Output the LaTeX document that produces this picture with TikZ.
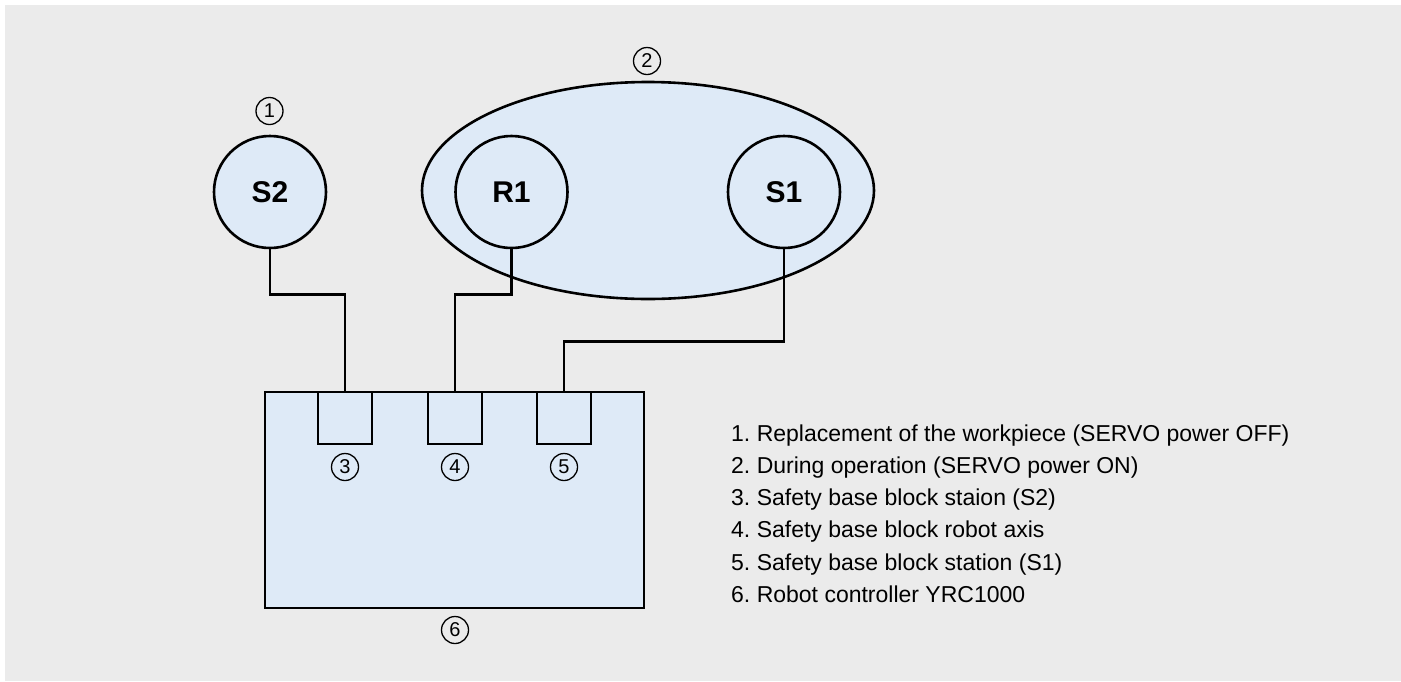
\documentclass[tikz,border=0pt]{standalone}
\usepackage{fontspec}
\setmainfont{Liberation Sans}
\usetikzlibrary{shapes.geometric}
\definecolor{bggrey}{HTML}{EBEBEB}
\definecolor{boxblue}{HTML}{DEEAF7}
\tikzset{
  unit/.style={circle, draw=black, line width=2.6pt, fill=boxblue, minimum size=112pt, inner sep=0pt,
    font=\fontsize{30}{34}\selectfont\bfseries},
  group/.style={ellipse, draw=black, line width=2.6pt, fill=boxblue, minimum width=452pt, minimum height=217pt, inner sep=0pt},
  ctrl/.style={rectangle, draw=black, line width=2.6pt, fill=boxblue, minimum width=379pt, minimum height=216pt, inner sep=0pt},
  port/.style={rectangle, draw=black, line width=2.6pt, fill=boxblue, minimum width=54pt, minimum height=52pt, inner sep=0pt},
  num/.style={circle, draw=black, line width=1.3pt, minimum size=27pt, inner sep=0pt,
    font=\fontsize{20}{22}\selectfont},
  wire/.style={draw=black, line width=2.6pt},
  legend/.style={anchor=base west, inner sep=0pt, font=\fontsize{23}{27}\selectfont\frenchspacing}
}
\begin{document}
\begin{tikzpicture}[x=1pt, y=-1pt]
\useasboundingbox (0,0) rectangle (1401,681);
\fill[bggrey] (5,5) rectangle (1401,681);
% group ellipse
\node[group] (grp) at (648,190.5) {};
% units
\node[unit] (s2) at (270,192) {S2};
\node[unit] (r1) at (511.5,192) {R1};
\node[unit] (s1) at (784,192) {S1};
% controller
\node[ctrl] (ctl) at (454.5,500) {};
\node[port] (p3) at (345,418) {};
\node[port] (p4) at (455,418) {};
\node[port] (p5) at (564,418) {};
% wires
\draw[wire] (s2.south) -- ++(0,45) -| (p3.north);
\draw[wire] (r1.south) -- ++(0,45) -| (p4.north);
\draw[wire] (s1.south) -- ++(0,92) -| (p5.north);
% numbers
\node[num] (n1) at (269.5,111) {1};
\node[num] (n2) at (647,61) {2};
\node[num] (n3) at (345,467) {3};
\node[num] (n4) at (455,467) {4};
\node[num] (n5) at (564,467) {5};
\node[num] (n6) at (455,630) {6};
% legend
\node[legend] (l1) at (731,441) {1. Replacement of the workpiece (SERVO power OFF)};
\node[legend] (l2) at (731,473) {2. During operation (SERVO power ON)};
\node[legend] (l3) at (731,505) {3. Safety base block staion (S2)};
\node[legend] (l4) at (731,537) {4. Safety base block robot axis};
\node[legend] (l5) at (731,570) {5. Safety base block station (S1)};
\node[legend] (l6) at (731,602) {6. Robot controller YRC1000};
\end{tikzpicture}
\end{document}
